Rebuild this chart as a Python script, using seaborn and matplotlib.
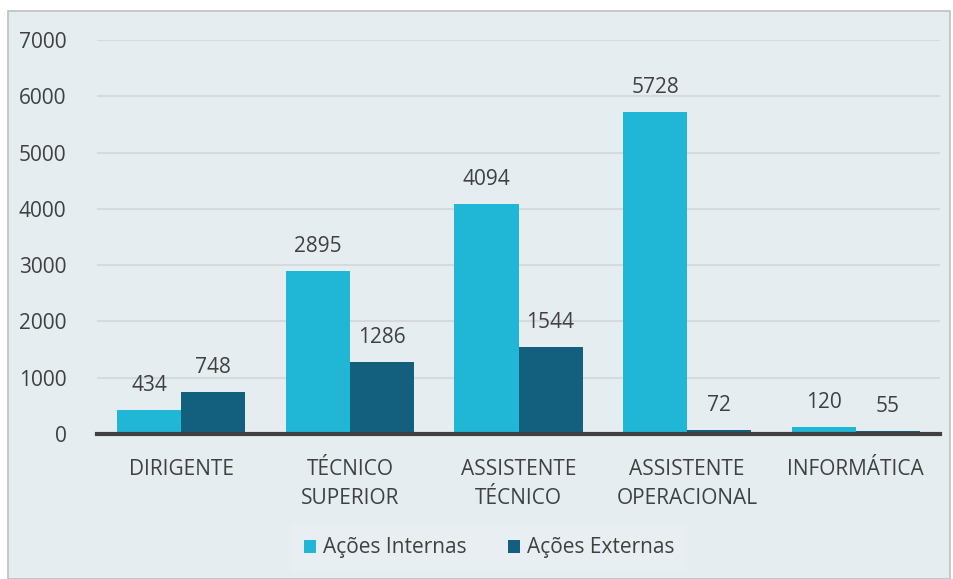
import matplotlib
matplotlib.use("Agg")
import matplotlib.pyplot as plt
import seaborn as sns
import pandas as pd
from matplotlib.patches import Rectangle

categories = ["DIRIGENTE", "TÉCNICO\nSUPERIOR", "ASSISTENTE\nTÉCNICO", "ASSISTENTE\nOPERACIONAL", "INFORMÁTICA"]
internas = [434, 2895, 4094, 5728, 120]
externas = [748, 1286, 1544, 72, 55]
series_names = ["Ações Internas", "Ações Externas"]
y_ticks = [0, 1000, 2000, 3000, 4000, 5000, 6000, 7000]

df = pd.DataFrame({
    "cat": categories * 2,
    "val": internas + externas,
    "serie": [series_names[0]] * 5 + [series_names[1]] * 5,
})

sns.set_theme(style="white")
plt.rcParams["font.family"] = ["Open Sans", "DejaVu Sans"]
txt = "#404040"
bg = "#E6EDF1"
fs = 15

fig = plt.figure(figsize=(9.54, 5.79), dpi=100, facecolor="white")
fig.patches.append(Rectangle((8/954, 0), (950-8)/954, 1 - 11/579, transform=fig.transFigure,
                             facecolor=bg, edgecolor="#BFBFBF", linewidth=1.2, zorder=-10))
ax = fig.add_axes([97/954, 1 - 434/579, (940-97)/954, (434-40)/579])
ax.set_facecolor(bg)
ax.patch.set_alpha(0)

sns.barplot(data=df, x="cat", y="val", hue="serie", palette=["#20B7D6", "#12607E"],
            width=0.76, gap=0, saturation=1, ax=ax, legend=True, zorder=3, linewidth=0)

for cont in ax.containers:
    ax.bar_label(cont, labels=[f"{int(v)}" for v in cont.datavalues], padding=10,
                 fontsize=fs, color=txt)

ax.set_ylim(0, 7000)
ax.set_yticks(y_ticks)
ax.set_xlim(-0.5, 4.5)
ax.yaxis.grid(True, color="#D6DADD", linewidth=1.5, zorder=0)
ax.set_axisbelow(True)
for s in ["top", "right", "left"]:
    ax.spines[s].set_visible(False)
ax.spines["bottom"].set_color("#404040")
ax.spines["bottom"].set_linewidth(3)
ax.spines["bottom"].set_zorder(5)
ax.tick_params(axis="y", length=0, pad=22, labelsize=fs, labelcolor=txt)
ax.tick_params(axis="x", length=0, pad=18, labelsize=fs, labelcolor=txt)
for t in ax.get_xticklabels():
    t.set_linespacing(1.5)
ax.set_xlabel("")
ax.set_ylabel("")

h, l = ax.get_legend_handles_labels()
ax.get_legend().remove()
leg = fig.legend(h, l, loc="center", bbox_to_anchor=(489/954, 1 - 548/579), ncol=2,
                 frameon=True, fontsize=fs, handlelength=0.6, handleheight=0.6,
                 handletextpad=0.3, columnspacing=2.0, borderpad=0.6)
leg.get_frame().set_facecolor("#E9EFF2")
leg.get_frame().set_edgecolor("none")
leg.get_frame().set_boxstyle("square", pad=0.0)
for t in leg.get_texts():
    t.set_color(txt)

fig.savefig("out.png", dpi=100, facecolor="white")
